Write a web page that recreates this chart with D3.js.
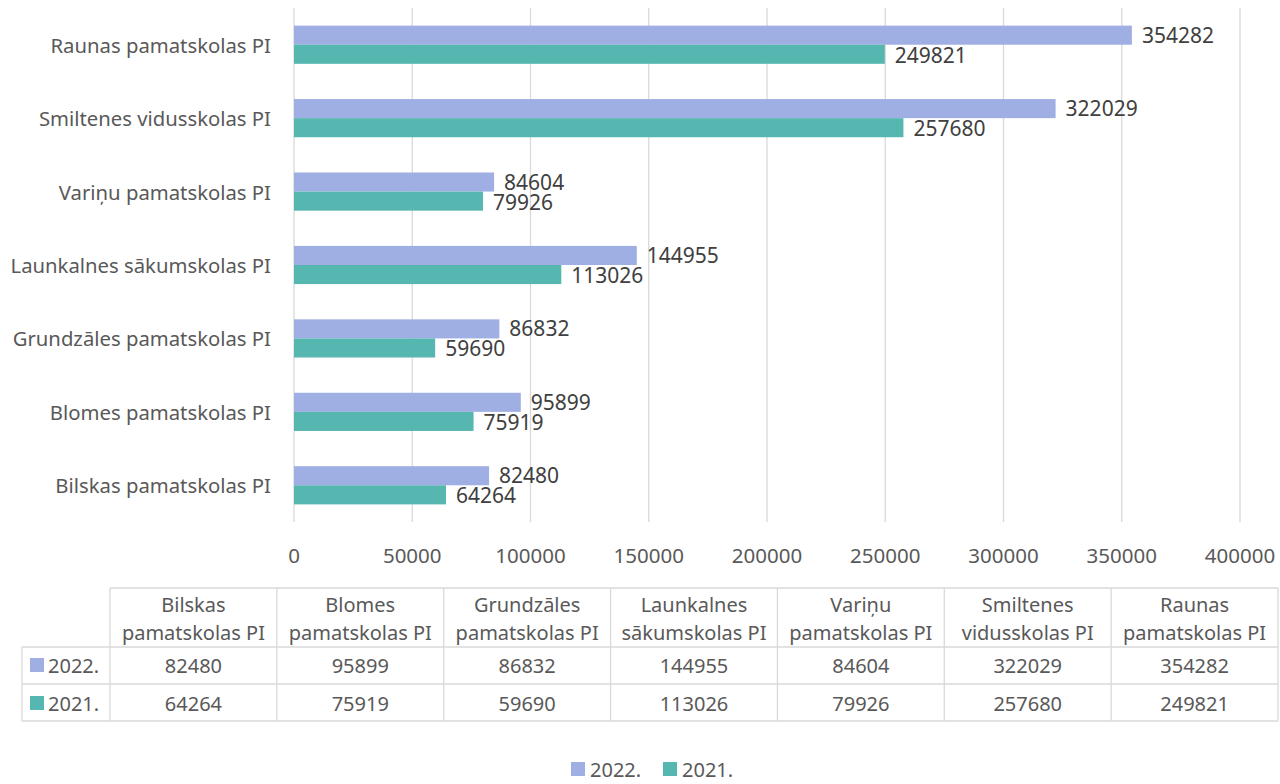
<!DOCTYPE html>
<html>
<head>
<meta charset="utf-8">
<script src="https://cdn.jsdelivr.net/npm/d3@7"></script>
<style>
  body { margin: 0; background: #fff; }
  svg { display: block; font-family: "Noto Sans", sans-serif; }
</style>
</head>
<body>
<div id="chart"></div>
<script>
// data, in table order (bottom to top in the chart)
const schools = [
  "Bilskas pamatskolas PI",
  "Blomes pamatskolas PI",
  "Grundzāles pamatskolas PI",
  "Launkalnes sākumskolas PI",
  "Variņu pamatskolas PI",
  "Smiltenes vidusskolas PI",
  "Raunas pamatskolas PI"
];
const headerLines = [
  ["Bilskas", "pamatskolas PI"],
  ["Blomes", "pamatskolas PI"],
  ["Grundzāles", "pamatskolas PI"],
  ["Launkalnes", "sākumskolas PI"],
  ["Variņu", "pamatskolas PI"],
  ["Smiltenes", "vidusskolas PI"],
  ["Raunas", "pamatskolas PI"]
];
const years = ["2022.", "2021."];
const values2022 = [82480, 95899, 86832, 144955, 84604, 322029, 354282];
const values2021 = [64264, 75919, 59690, 113026, 79926, 257680, 249821];
const xTicks = [0, 50000, 100000, 150000, 200000, 250000, 300000, 350000, 400000];

const colors = {"2022.": "#a0afe3", "2021.": "#56b7b0"};
const textCol = "#595959";
const gridCol = "#d9d9d9";

const width = 1280, height = 784;
const svg = d3.select("#chart").append("svg")
  .attr("width", width).attr("height", height);

const seriesVals = {"2022.": values2022, "2021.": values2021};
const rows = schools.map((s, i) => ({school: s, "2022.": values2022[i], "2021.": values2021[i]}));

const x = d3.scaleLinear().domain([0, 400000]).range([294, 1240]);
const y = d3.scaleBand().domain(schools.slice().reverse()).range([8, 522])
  .paddingInner(0.48).paddingOuter(0.24);
const y1 = d3.scaleBand().domain(years).range([0, y.bandwidth()]);

// gridlines
svg.append("g").selectAll("line").data(xTicks).join("line")
  .attr("x1", d => x(d)).attr("x2", d => x(d))
  .attr("y1", 8).attr("y2", 522)
  .attr("stroke", gridCol).attr("stroke-width", 1.3);

// tick labels
svg.append("g").selectAll("text").data(xTicks).join("text")
  .attr("x", d => x(d)).attr("y", 555)
  .attr("text-anchor", "middle").attr("dominant-baseline", "central")
  .attr("font-size", 20.5).attr("fill", textCol)
  .text(d => d);

// category labels
svg.append("g").selectAll("text").data(schools).join("text")
  .attr("x", 271).attr("y", d => y(d) + y.bandwidth() / 2)
  .attr("text-anchor", "end").attr("dominant-baseline", "central")
  .attr("font-size", 20.3).attr("fill", textCol)
  .text(d => d);

// bars + labels
const groups = svg.append("g").selectAll("g").data(rows).join("g")
  .attr("transform", d => `translate(0,${y(d.school)})`);

groups.selectAll("rect").data(d => years.map(k => ({k, v: d[k]}))).join("rect")
  .attr("x", x(0)).attr("y", d => y1(d.k))
  .attr("width", d => x(d.v) - x(0)).attr("height", y1.bandwidth())
  .attr("fill", d => colors[d.k]);

groups.selectAll("text").data(d => years.map(k => ({k, v: d[k]}))).join("text")
  .attr("x", d => x(d.v) + 10)
  .attr("y", (d, i) => y1(d.k) + y1.bandwidth() / 2 + (i === 0 ? -0.5 : 0.5))
  .attr("dominant-baseline", "central")
  .attr("font-size", 21).attr("fill", "#404040")
  .text(d => d.v);

// data table
const colX = d3.scaleBand().domain(schools).range([110, 1278]);
const tTop = 588, tHead = 647, tR1 = 684, tR2 = 721, tLeft = 22;
const tbl = svg.append("g").attr("stroke", gridCol).attr("stroke-width", 1.3);
// horizontal lines
tbl.append("line").attr("x1", 110).attr("x2", 1278).attr("y1", tTop).attr("y2", tTop);
[tHead, tR1, tR2].forEach(yy =>
  tbl.append("line").attr("x1", tLeft).attr("x2", 1278).attr("y1", yy).attr("y2", yy));
// vertical lines
tbl.append("line").attr("x1", tLeft).attr("x2", tLeft).attr("y1", tHead).attr("y2", tR2);
tbl.selectAll(".v").data(schools).join("line").attr("class", "v")
  .attr("x1", d => colX(d)).attr("x2", d => colX(d)).attr("y1", tTop).attr("y2", tR2);
tbl.append("line").attr("x1", 1278).attr("x2", 1278).attr("y1", tTop).attr("y2", tR2);

// header text
const head = svg.append("g");
schools.forEach((s, i) => {
  headerLines[i].forEach((ln, j) => {
    head.append("text")
      .attr("x", colX(s) + colX.bandwidth() / 2).attr("y", 604 + j * 28)
      .attr("text-anchor", "middle").attr("dominant-baseline", "central")
      .attr("font-size", 20).attr("fill", textCol)
      .text(ln);
  });
});

// row values
years.forEach((k, r) => {
  const cy = r === 0 ? 665 : 703;
  svg.append("rect").attr("x", 30).attr("y", cy - 7).attr("width", 14).attr("height", 14)
    .attr("fill", colors[k]);
  svg.append("text").attr("x", 48).attr("y", cy)
    .attr("dominant-baseline", "central").attr("font-size", 20).attr("fill", textCol)
    .text(k);
  svg.append("g").selectAll("text").data(seriesVals[k].map((v, i) => ({v, s: schools[i]}))).join("text")
    .attr("x", d => colX(d.s) + colX.bandwidth() / 2).attr("y", cy)
    .attr("text-anchor", "middle").attr("dominant-baseline", "central")
    .attr("font-size", 20).attr("fill", textCol)
    .text(d => d.v);
});

// legend
const legX = {"2022.": 571, "2021.": 663};
years.forEach(k => {
  svg.append("rect").attr("x", legX[k]).attr("y", 762).attr("width", 14).attr("height", 14)
    .attr("fill", colors[k]);
  svg.append("text").attr("x", legX[k] + 19).attr("y", 769)
    .attr("dominant-baseline", "central").attr("font-size", 20).attr("fill", textCol)
    .text(k);
});
</script>
</body>
</html>
